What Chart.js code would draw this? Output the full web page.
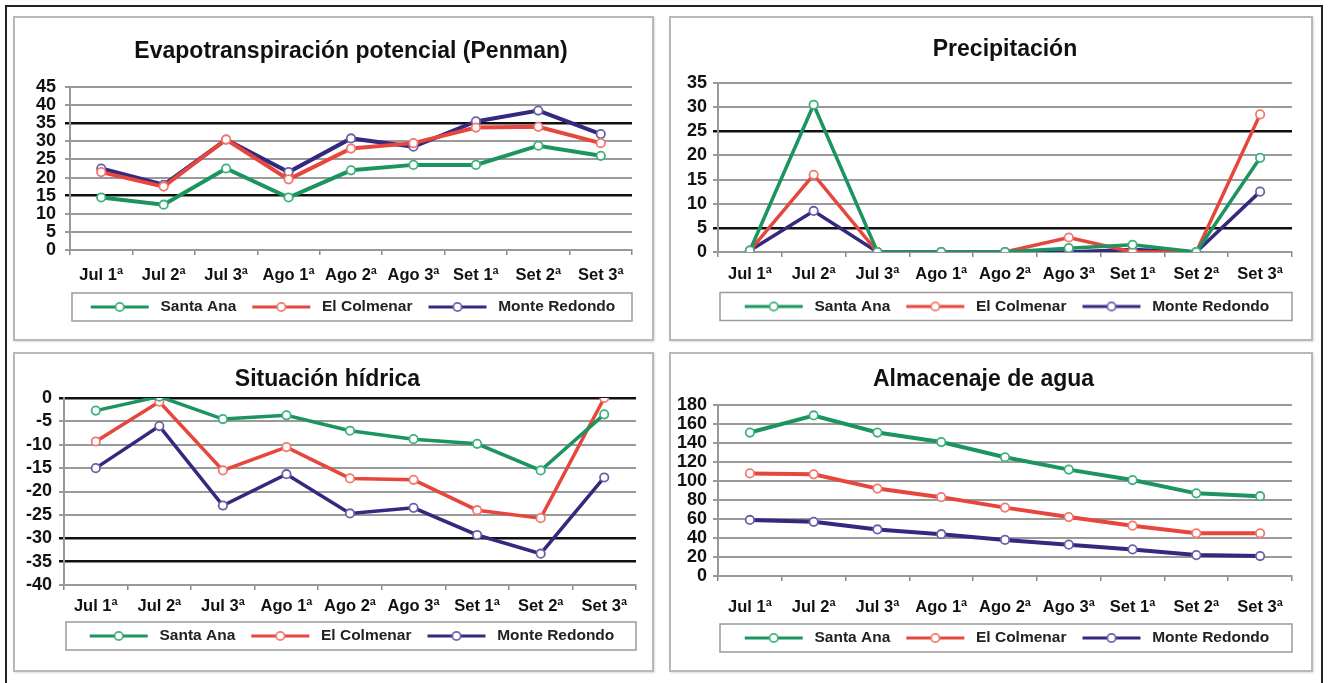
<!DOCTYPE html>
<html>
<head>
<meta charset="utf-8">
<script src="https://cdn.jsdelivr.net/npm/chart.js"></script>
<style>
  html, body { margin: 0; padding: 0; background: #fff; }
  #frame { position: absolute; left: 5px; top: 5px; width: 1318px; height: 680px; border: 2px solid #222; box-sizing: border-box; border-bottom: none; }
  .panel { position: absolute; border: 2px solid #b8b8b8; box-sizing: border-box; background: #fff; box-shadow: 1px 1px 2px #ddd; }
  .panel canvas { position: absolute; left: 0; top: 0; }
</style>
</head>
<body>
<div id="frame"></div>
<div class="panel" style="left:13px;top:16px;width:641px;height:325px"><canvas id="c1"></canvas></div>
<div class="panel" style="left:669px;top:16px;width:644px;height:325px"><canvas id="c2"></canvas></div>
<div class="panel" style="left:13px;top:352px;width:641px;height:320px"><canvas id="c3"></canvas></div>
<div class="panel" style="left:669px;top:352px;width:644px;height:320px"><canvas id="c4"></canvas></div>
<script>
const categories = ["Jul 1ª", "Jul 2ª", "Jul 3ª", "Ago 1ª", "Ago 2ª", "Ago 3ª", "Set 1ª", "Set 2ª", "Set 3ª"];
const seriesNames = ["Santa Ana", "El Colmenar", "Monte Redondo"];

// Evapotranspiración potencial (Penman)
const etpSantaAna = [14.5, 12.5, 22.5, 14.5, 22, 23.5, 23.5, 28.8, 26];
const etpColmenar = [21.5, 17.5, 30.5, 19.5, 28, 29.5, 33.8, 34, 29.5];
const etpMonte = [22.5, 18, 30.5, 21.5, 30.8, 28.5, 35.5, 38.5, 32];

// Precipitación
const ppSantaAna = [0.3, 30.5, 0, 0, 0, 0.8, 1.5, 0, 19.5];
const ppColmenar = [0.3, 16, 0, 0, 0, 3, 0, 0, 28.5];
const ppMonte = [0.3, 8.5, 0, 0, 0, 0, 0.5, 0, 12.5];

// Situación hídrica
const shSantaAna = [-2.7, 0.3, -4.5, -3.7, -7, -8.8, -9.8, -15.5, -3.5];
const shColmenar = [-9.3, -0.8, -15.5, -10.5, -17.2, -17.5, -24, -25.7, 0];
const shMonte = [-15, -6, -23, -16.3, -24.7, -23.5, -29.3, -33.3, -17];

// Almacenaje de agua
const alSantaAna = [151, 169, 151, 141, 125, 112, 101, 87, 84];
const alColmenar = [108, 107, 92, 83, 72, 62, 53, 45, 45];
const alMonte = [59, 57, 49, 44, 38, 33, 28, 22, 21];

const colors = ["#1b9460", "#e6463c", "#34297e"];
const pointEdge = ["#3fb07e", "#f07a70", "#6a60a8"];

Chart.defaults.font.family = "'Liberation Sans', Arial, sans-serif";
Chart.defaults.font.weight = "bold";
Chart.defaults.color = "#111";

// legend symbol: line with a circle in the middle (4px clear margin each side)
function legendSymbol(i) {
  const c = document.createElement("canvas");
  c.width = 66; c.height = 12;
  const g = c.getContext("2d");
  g.strokeStyle = colors[i];
  g.lineWidth = 3;
  g.beginPath(); g.moveTo(4, 6); g.lineTo(62, 6); g.stroke();
  g.fillStyle = "#fff";
  g.strokeStyle = pointEdge[i];
  g.lineWidth = 1.8;
  g.beginPath(); g.arc(33, 6, 4.2, 0, Math.PI * 2); g.fill(); g.stroke();
  return c;
}
const symbols = [0, 1, 2].map(legendSymbol);

// center the legend (and optionally the title) over the plot, frame the legend
const legendBox = {
  id: "legendBox",
  beforeDraw(chart, args, o) {
    const a = chart.chartArea;
    const blocks = o.titleOnPlot ? [chart.legend, chart.titleBlock] : [chart.legend];
    blocks.forEach((b) => { b.left = a.left; b.right = a.right; b.width = a.right - a.left; });
  },
  afterDraw(chart) {
    const l = chart.legend, a = chart.chartArea, ctx = chart.ctx;
    const hb = l.legendHitBoxes[0];
    const cy = hb.top + hb.height / 2;
    ctx.save();
    ctx.strokeStyle = "#9a9a9a";
    ctx.lineWidth = 1.5;
    ctx.strokeRect(a.left + 2, cy - 14, a.right - a.left - 2, 28);
    ctx.restore();
  }
};

function makeChart(id, w, h, title, values, scale, opts) {
  const cv = document.getElementById(id);
  cv.width = w; cv.height = h;
  new Chart(cv, {
    type: "line",
    data: {
      labels: categories,
      datasets: values.map((v, i) => ({
        label: seriesNames[i],
        data: v,
        borderColor: colors[i],
        borderWidth: opts.lineW,
        pointRadius: 4.2,
        pointBorderWidth: 1.8,
        pointBackgroundColor: "#fff",
        pointBorderColor: pointEdge[i],
        tension: 0,
      })),
    },
    options: {
      responsive: false,
      animation: false,
      layout: { padding: { left: opts.padLeft, right: opts.padRight, top: 0, bottom: opts.padBottom } },
      plugins: {
        legendBox: { titleOnPlot: opts.titleOnPlot },
        title: {
          display: true,
          text: title,
          font: { size: 23, weight: "bold" },
          color: "#111",
          padding: { top: opts.titleTop, bottom: opts.titleBottom },
        },
        legend: {
          position: "bottom",
          labels: {
            usePointStyle: true,
            pointStyleWidth: 66,
            padding: 12,
            font: { size: 15.5, weight: "bold" },
            color: "#222",
            generateLabels(chart) {
              const items = Chart.defaults.plugins.legend.labels.generateLabels(chart);
              items.forEach((it, i) => { it.pointStyle = symbols[i]; });
              return items;
            },
          },
        },
        tooltip: { enabled: false },
      },
      scales: {
        x: {
          offset: true,
          afterFit(ax) { ax.height = opts.xHeight; },
          grid: { display: true, drawOnChartArea: false, drawTicks: true, tickLength: 5, color: "#888", lineWidth: 1.5, offset: true },
          border: { color: "#999", width: 2 },
          ticks: { font: { size: 16.5, weight: "bold" }, color: "#111", padding: opts.xPad, maxRotation: 0, autoSkip: false },
        },
        y: {
          min: scale.min,
          max: scale.max,
          afterFit(ax) { ax.width = opts.yWidth; },
          ticks: { stepSize: scale.step, autoSkip: false, font: { size: 18, weight: "bold" }, color: "#111", padding: opts.yPad },
          border: { color: "#999", width: 2 },
          grid: {
            tickLength: 5,
            color: (c) => scale.dark.includes(c.tick.value) ? "#111" : "#9a9a9a",
            lineWidth: (c) => scale.dark.includes(c.tick.value) ? 2.5 : 2,
          },
        },
      },
    },
    plugins: [legendBox],
  });
}

makeChart("c1", 637, 321, "Evapotranspiración potencial (Penman)",
  [etpSantaAna, etpColmenar, etpMonte],
  { min: 0, max: 45, step: 5, dark: [15, 35] },
  { padLeft: 8, padRight: 20, padBottom: 14.25, titleTop: 20.2, titleBottom: 21.2, xPad: 11, xHeight: 37.25, yWidth: 47, yPad: 9, lineW: 4, titleOnPlot: true });

makeChart("c2", 640, 321, "Precipitación",
  [ppSantaAna, ppColmenar, ppMonte],
  { min: 0, max: 35, step: 5, dark: [5, 25] },
  { padLeft: 8, padRight: 19, padBottom: 14.75, titleTop: 18.2, titleBottom: 19.2, xPad: 8, xHeight: 34.75, yWidth: 39, yPad: 6, lineW: 3.5, titleOnPlot: true });

makeChart("c3", 637, 316, "Situación hídrica",
  [shSantaAna, shColmenar, shMonte],
  { min: -40, max: 0, step: 5, dark: [0, -30, -35] },
  { padLeft: 4, padRight: 16, padBottom: 16.25, titleTop: 12.2, titleBottom: 4.2, xPad: 7, xHeight: 31.25, yWidth: 45, yPad: 7, lineW: 3.5, titleOnPlot: false });

makeChart("c4", 640, 316, "Almacenaje de agua",
  [alSantaAna, alColmenar, alMonte],
  { min: 0, max: 180, step: 20, dark: [] },
  { padLeft: 4, padRight: 19, padBottom: 14.25, titleTop: 12.2, titleBottom: 11.2, xPad: 17, xHeight: 42.25, yWidth: 43, yPad: 6, lineW: 4, titleOnPlot: false });
</script>
</body>
</html>
